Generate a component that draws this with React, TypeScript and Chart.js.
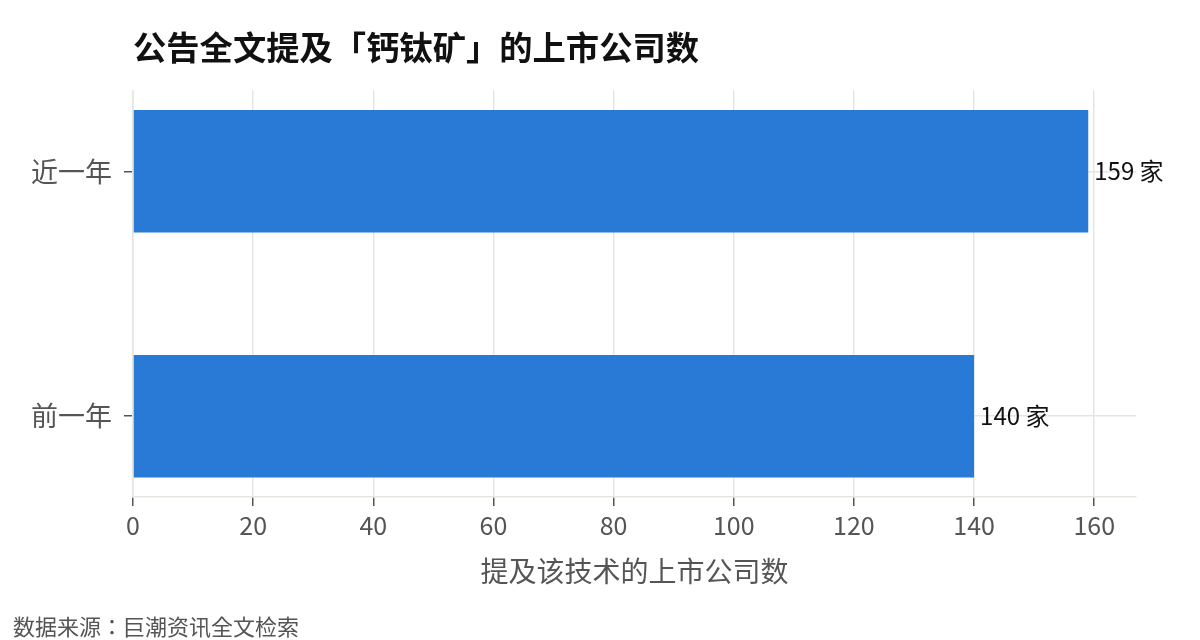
import React, { useEffect, useRef } from 'react';
import { Chart, registerables } from 'chart.js';

Chart.register(...registerables);

const categories = ['近一年', '前一年'];
const counts = [159, 140];
const unit = '家';

const FONT = "'Noto Sans CJK SC', 'Noto Sans', sans-serif";
const FONT_JP = "'Noto Sans CJK JP', 'Noto Sans CJK SC', sans-serif";
const barColor = '#2979d6';
const gridColor = '#e6e6e0';
const textColor = '#555555';

// writes "159 家" to the right of each bar
const valueLabels = {
  id: 'valueLabels',
  afterDatasetsDraw(chart: any) {
    const { ctx } = chart;
    const meta = chart.getDatasetMeta(0);
    ctx.save();
    ctx.font = `24px ${FONT}`;
    ctx.fillStyle = '#111111';
    ctx.textAlign = 'left';
    ctx.textBaseline = 'middle';
    meta.data.forEach((bar: any, i: number) => {
      ctx.fillText(`${counts[i]} ${unit}`, bar.x + 6, bar.y);
    });
    ctx.restore();
  },
};

const App: React.FC = () => {
  const canvasRef = useRef<HTMLCanvasElement>(null);
  const chartRef = useRef<Chart | null>(null);

  useEffect(() => {
    if (!canvasRef.current) return;
    if (chartRef.current) chartRef.current.destroy();

    const data = counts.map((v, i) => ({ x: v, y: i }));

    chartRef.current = new Chart(canvasRef.current, {
      type: 'bar',
      data: {
        datasets: [
          {
            label: '上市公司数',
            data: data as any,
            backgroundColor: barColor,
            borderWidth: 0,
            barPercentage: 0.5,
            categoryPercentage: 1,
          },
        ],
      },
      options: {
        indexAxis: 'y',
        animation: false,
        responsive: true,
        maintainAspectRatio: false,
        layout: { padding: { left: 13, right: 64, top: 0, bottom: 0 } },
        plugins: {
          legend: { display: false },
          tooltip: { enabled: false },
          title: {
            display: true,
            text: '公告全文提及「钙钛矿」的上市公司数',
            align: 'start',
            fullSize: false,
            color: '#111111',
            font: { family: FONT, size: 33.3, weight: 'bold' },
            padding: { top: 27, bottom: 23.5 },
          },
          subtitle: {
            display: true,
            position: 'bottom',
            text: '数据来源：巨潮资讯全文检索',
            align: 'start',
            color: textColor,
            font: { family: FONT_JP, size: 22 },
            padding: { top: 0, bottom: 0 },
          },
        },
        scales: {
          x: {
            type: 'linear',
            min: 0,
            max: 166.95,
            border: { display: true, color: gridColor, width: 1.5 },
            grid: { color: gridColor, lineWidth: 1.5, tickColor: textColor, tickLength: 9, tickWidth: 1.5 },
            ticks: {
              stepSize: 20,
              includeBounds: false,
              color: textColor,
              font: { family: FONT, size: 25 },
              padding: 4,
            },
            title: {
              display: true,
              text: '提及该技术的上市公司数',
              color: textColor,
              font: { family: FONT, size: 28 },
              padding: { top: 0, bottom: 25 },
            },
            afterFit(scale: any) {
              scale.height = 116.6;
            },
          },
          y: {
            type: 'linear',
            min: -0.33,
            max: 1.33,
            reverse: true,
            offset: false,
            border: { display: true, color: gridColor, width: 1.5 },
            grid: { offset: false, color: gridColor, lineWidth: 1.5, tickColor: textColor, tickLength: 9, tickWidth: 1.5 },
            afterBuildTicks(scale: any) {
              scale.ticks = categories.map((_, i) => ({ value: i }));
            },
            ticks: {
              color: textColor,
              font: { family: FONT, size: 27 },
              padding: 12,
              callback: (v: any) => categories[v as number] ?? '',
            },
            afterFit(scale: any) {
              scale.width = 120;
            },
          },
        },
      },
      plugins: [valueLabels],
    });

    return () => {
      if (chartRef.current) {
        chartRef.current.destroy();
        chartRef.current = null;
      }
    };
  }, []);

  return (
    <div style={{ position: 'fixed', left: 0, top: 0, width: 1200, height: 640, background: '#ffffff' }}>
      <canvas ref={canvasRef} aria-label="公告全文提及「钙钛矿」的上市公司数"></canvas>
    </div>
  );
};

export default App;
